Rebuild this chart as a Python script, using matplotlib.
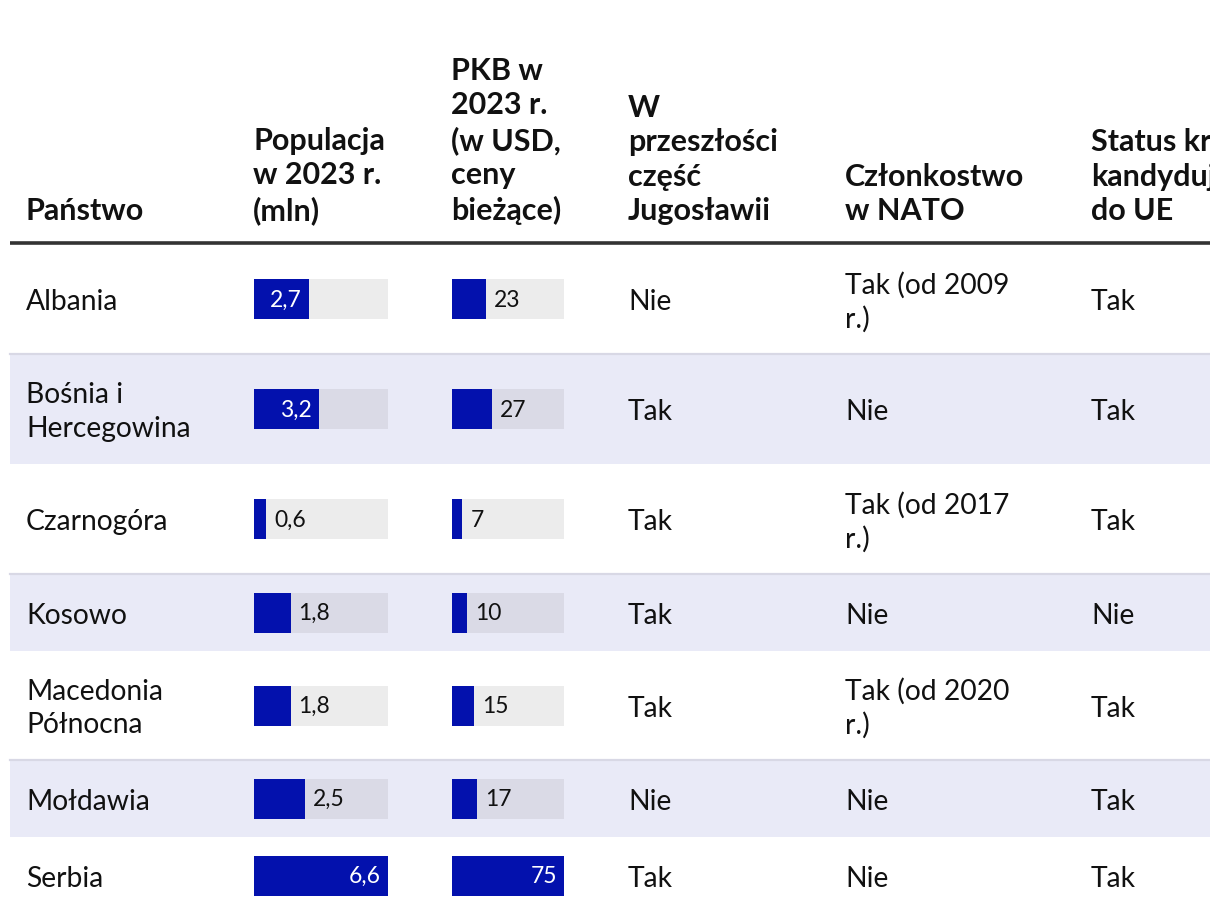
import matplotlib
matplotlib.use("Agg")
import matplotlib.pyplot as plt
from matplotlib.patches import Rectangle

plt.rcParams['font.family'] = ['Lato', 'DejaVu Sans']

# ---- data ----
headers = ["Państwo", "Populacja\nw 2023 r.\n(mln)", "PKB w\n2023 r.\n(w USD,\nceny\nbieżące)",
           "W\nprzeszłości\nczęść\nJugosławii", "Członkostwo\nw NATO", "Status kraju\nkandydującego\ndo UE"]
countries = ["Albania", "Bośnia i\nHercegowina", "Czarnogóra", "Kosowo", "Macedonia\nPółnocna",
             "Mołdawia", "Serbia"]
population = [2.7, 3.2, 0.6, 1.8, 1.8, 2.5, 6.6]
population_labels = ["2,7", "3,2", "0,6", "1,8", "1,8", "2,5", "6,6"]
gdp = [23, 27, 7, 10, 15, 17, 75]
gdp_labels = ["23", "27", "7", "10", "15", "17", "75"]
yugoslavia = ["Nie", "Tak", "Tak", "Tak", "Tak", "Nie", "Tak"]
nato = ["Tak (od 2009\nr.)", "Nie", "Tak (od 2017\nr.)", "Nie", "Tak (od 2020\nr.)", "Nie", "Nie"]
eu_candidate = ["Tak", "Tak", "Tak", "Nie", "Tak", "Tak", "Tak"]

# ---- layout (pixels) ----
W, H = 1220, 922
DPI = 100
fig = plt.figure(figsize=(W / DPI, H / DPI), dpi=DPI)
ax = fig.add_axes([0, 0, 1210 / W, 1])
ax.set_xlim(0, 1210)
ax.set_ylim(H, 0)
ax.axis('off')

col_x = [26, 253, 451, 628, 845, 1091]
header_bottom = 225
line_y = 243
row_heights = [110, 110, 110, 77, 109, 77, 77]
row_tops = []
y = line_y + 1
for h in row_heights:
    row_tops.append(y)
    y += h
row_centers = [t + h / 2 for t, h in zip(row_tops, row_heights)]
TEXT_DY = 3

SHADE = '#e9eaf7'
SEP = '#d8d8e5'
BAR = '#0311ad'
TRACK_W = '#ececec'
TRACK_S = '#dadae6'
HFS = 22
BFS = 20.3
LFS = 16.5

# header
for x, t in zip(col_x, headers):
    ax.text(x, header_bottom, t, ha='left', va='bottom', fontsize=HFS, fontweight='bold',
            color='#111111', linespacing=1.28, clip_on=True)
ax.plot([10, 1210], [line_y, line_y], color='#333333', lw=2.6, solid_capstyle='butt')

# rows backgrounds
for i, (t, h) in enumerate(zip(row_tops, row_heights)):
    if i % 2 == 1:
        ax.add_patch(Rectangle((10, t), 1200, h, facecolor=SHADE, edgecolor='none', zorder=0))
        ax.plot([10, 1210], [t, t], color=SEP, lw=1.6, zorder=1)

# text columns
for i, c in enumerate(row_centers):
    cy = c + TEXT_DY
    ax.text(col_x[0], cy, countries[i], ha='left', va='center', fontsize=BFS, color='#111111',
            linespacing=1.34)
    ax.text(col_x[3], cy, yugoslavia[i], ha='left', va='center', fontsize=BFS, color='#111111')
    ax.text(col_x[4], cy, nato[i], ha='left', va='center', fontsize=BFS, color='#111111',
            linespacing=1.34)
    ax.text(col_x[5], cy, eu_candidate[i], ha='left', va='center', fontsize=BFS, color='#111111',
            clip_on=True)

# bar columns
def bar_column(x0, width, values, labels):
    bax = fig.add_axes([x0 / W, 0, width / W, 1])
    vmax = max(values)
    bax.set_xlim(0, vmax)
    bax.set_ylim(H, 0)
    bax.axis('off')
    bax.patch.set_alpha(0)
    tracks = [TRACK_S if i % 2 == 1 else TRACK_W for i in range(len(values))]
    bax.barh(row_centers, [vmax] * len(values), height=40, color=tracks, left=0)
    bax.barh(row_centers, values, height=40, color=BAR, left=0)
    for v, lab, c in zip(values, labels, row_centers):
        px = v / vmax * width
        if px >= 53:
            bax.annotate(lab, (v, c + 1), xytext=(-7, 0), textcoords='offset pixels', ha='right',
                         va='center', fontsize=LFS, color='white')
        else:
            bax.annotate(lab, (v, c + 1), xytext=(8, 0), textcoords='offset pixels', ha='left',
                         va='center', fontsize=LFS, color='#111111')

bar_column(254, 134, population, population_labels)
bar_column(452, 112, gdp, gdp_labels)

fig.savefig('out.png', dpi=DPI)
